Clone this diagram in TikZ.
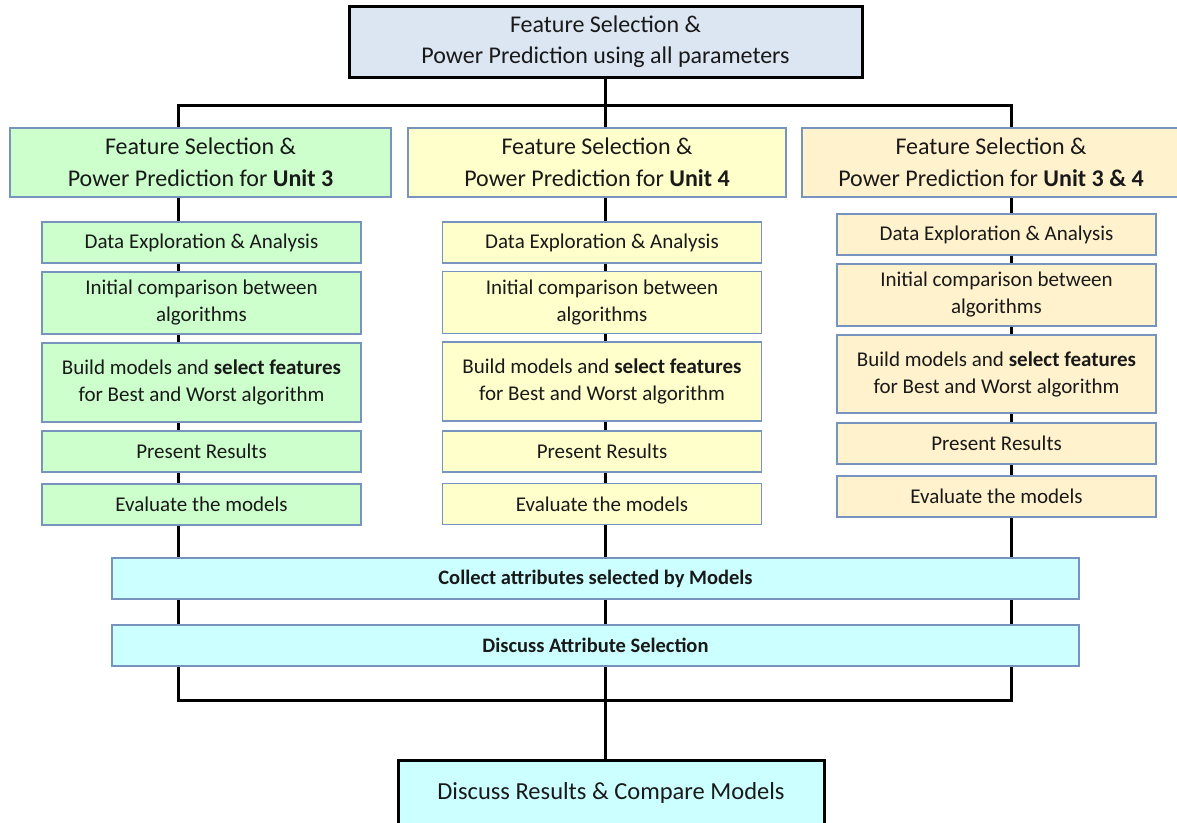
\documentclass[tikz,border=0pt]{standalone}
\usepackage{fontspec}
\setmainfont{Carlito}
\usetikzlibrary{positioning,backgrounds}

\definecolor{topblue}{RGB}{220,230,242}
\definecolor{unitgreen}{RGB}{204,255,204}
\definecolor{unityellow}{RGB}{255,255,204}
\definecolor{unitwheat}{RGB}{255,242,204}
\definecolor{stepcyan}{RGB}{204,255,255}
\definecolor{edgeblue}{RGB}{118,148,190}
\definecolor{textgray}{RGB}{25,25,25}

\begin{document}
\begin{tikzpicture}[
  x=1pt,y=-1pt,
  every node/.style={text=textgray},
  mainbox/.style={draw=black,line width=3pt,align=center,inner sep=0pt,
                  font=\fontsize{24}{31}\selectfont},
  unitbox/.style={draw=edgeblue,line width=1.5pt,align=center,inner sep=0pt,
                  minimum height=69pt,font=\fontsize{24}{32}\selectfont},
  stepbox/.style={draw=edgeblue,line width=1.5pt,align=center,inner sep=0pt,
                  minimum width=319pt,font=\fontsize{21}{27}\selectfont},
  widebox/.style={draw=edgeblue,line width=1.5pt,fill=stepcyan,inner sep=0pt,
                  minimum width=967pt,minimum height=41pt,
                  font=\bfseries\fontsize{20.5}{24}\selectfont},
  bus/.style={line width=3pt,black},
]
\useasboundingbox (0,0) rectangle (1177,822);

% Top
\node[mainbox,fill=topblue,minimum width=513pt,minimum height=71pt] (top) at (605.5,41.5)
  {Feature Selection \&\\Power Prediction using all parameters};

% Unit headers
\node[unitbox,fill=unitgreen,minimum width=381pt] (u3) at (200.5,162.5)
  {Feature Selection \&\\Power Prediction for \textbf{Unit 3}};
\node[unitbox,fill=unityellow,minimum width=378pt] (u4) at (597,162.5)
  {Feature Selection \&\\Power Prediction for \textbf{Unit 4}};
\node[unitbox,fill=unitwheat,minimum width=378pt] (u34) at (991,162.5)
  {Feature Selection \&\\Power Prediction for \textbf{Unit 3 \& 4}};

% Unit 3 steps
\node[stepbox,fill=unitgreen,minimum height=41pt] (d3) at (201.5,242.5) {Data Exploration \& Analysis};
\node[stepbox,fill=unitgreen,minimum height=62pt] (i3) at (201.5,303) {Initial comparison between\\algorithms};
\node[stepbox,fill=unitgreen,minimum height=79pt] (m3) at (201.5,382.5) {Build models and \textbf{select features}\\for Best and Worst algorithm};
\node[stepbox,fill=unitgreen,minimum height=41pt] (p3) at (201.5,451.5) {Present Results};
\node[stepbox,fill=unitgreen,minimum height=41pt] (e3) at (201.5,504.5) {Evaluate the models};

% Unit 4 steps
\node[stepbox,fill=unityellow,minimum height=41pt] (d4) at (602,242.5) {Data Exploration \& Analysis};
\node[stepbox,fill=unityellow,minimum height=62pt] (i4) at (602,302.5) {Initial comparison between\\algorithms};
\node[stepbox,fill=unityellow,minimum height=79pt] (m4) at (602,381.5) {Build models and \textbf{select features}\\for Best and Worst algorithm};
\node[stepbox,fill=unityellow,minimum height=41pt] (p4) at (602,451.5) {Present Results};
\node[stepbox,fill=unityellow,minimum height=41pt] (e4) at (602,504) {Evaluate the models};

% Unit 3 & 4 steps
\node[stepbox,fill=unitwheat,minimum height=41pt] (d34) at (996.5,234.5) {Data Exploration \& Analysis};
\node[stepbox,fill=unitwheat,minimum height=62pt] (i34) at (996.5,295) {Initial comparison between\\algorithms};
\node[stepbox,fill=unitwheat,minimum height=78pt] (m34) at (996.5,374) {Build models and \textbf{select features}\\for Best and Worst algorithm};
\node[stepbox,fill=unitwheat,minimum height=41pt] (p34) at (996.5,443.5) {Present Results};
\node[stepbox,fill=unitwheat,minimum height=41pt] (e34) at (996.5,496.5) {Evaluate the models};

% Common steps
\node[widebox] (collect) at (595.5,578.5) {Collect attributes selected by Models};
\node[widebox] (discuss) at (595.5,645.5) {Discuss Attribute Selection};

% Final
\node[mainbox,fill=stepcyan,minimum width=426pt,minimum height=66pt,
      font=\fontsize{24.5}{30}\selectfont] (fin) at (611,793)
  {Discuss Results \& Compare Models};

% Tree lines behind the boxes
\coordinate (tl) at (178,105);
\coordinate (br) at (1011,700);
\begin{scope}[on background layer]
  \draw[bus] (tl) rectangle (br);
  \draw[bus] (top.south -| 605,0) -- (605,0 |- fin.north);
\end{scope}

\end{tikzpicture}
\end{document}
